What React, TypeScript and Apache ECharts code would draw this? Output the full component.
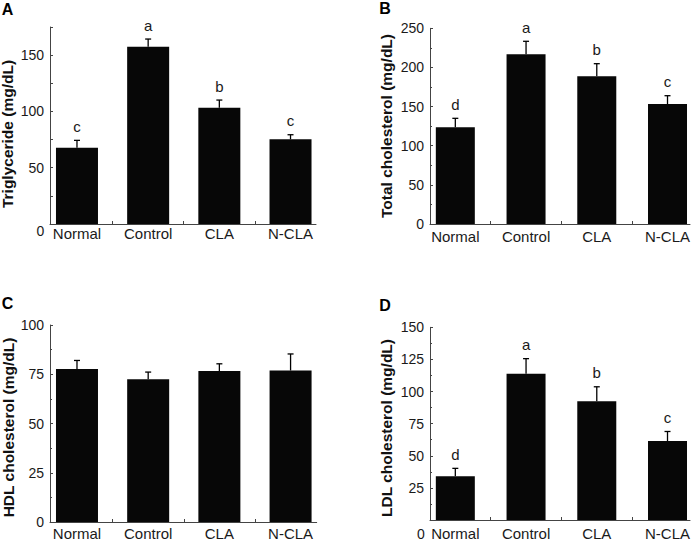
import React, { useEffect, useRef } from 'react';
import * as echarts from 'echarts';

const categories = ['Normal', 'Control', 'CLA', 'N-CLA'];
const positions = [1, 2, 3, 4];

const tgMean = [67.8, 157.5, 103.3, 75.2];
const tgErr = [6.5, 6.8, 6.8, 4.1];
const tgLetters = ['c', 'a', 'b', 'c'];

const tcMean = [123.5, 216.8, 188.7, 153.3];
const tcErr = [11.5, 16.6, 16.1, 10.6];
const tcLetters = ['d', 'a', 'b', 'c'];

const hdlMean = [77.7, 72.5, 76.6, 76.9];
const hdlErr = [4.3, 3.6, 3.7, 8.4];
const hdlLetters: string[] = [];

const ldlMean = [34.1, 113.9, 92.5, 61.5];
const ldlErr = [6.1, 11.7, 11.2, 7.4];
const ldlLetters = ['d', 'a', 'b', 'c'];

const FONT = '"Liberation Sans", Arial, Helvetica, sans-serif';

type Panel = {
  grid: { left: number; top: number; width: number; height: number };
  xMin: number;
  xMax: number;
  yMax: number;
  yInterval: number;
  minor: boolean;
  labelFilter: (v: number) => boolean;
  labelMargin: number;
  mean: number[];
  err: number[];
  letters: string[];
  barWidth: number;
};

const panels: Panel[] = [
  {
    grid: { left: 50, top: 27, width: 266, height: 197 },
    xMin: 0.621, xMax: 4.358, yMax: 175, yInterval: 25, minor: false,
    labelFilter: (v) => v % 50 === 0 && v > 0 && v < 175,
    labelMargin: 2,
    mean: tgMean, err: tgErr, letters: tgLetters, barWidth: 42,
  },
  {
    grid: { left: 430, top: 28.3, width: 260, height: 195.7 },
    xMin: 0.642, xMax: 4.318, yMax: 250, yInterval: 50, minor: true,
    labelFilter: () => true,
    labelMargin: 5,
    mean: tcMean, err: tcErr, letters: tcLetters, barWidth: 39,
  },
  {
    grid: { left: 50, top: 325, width: 266.7, height: 197.7 },
    xMin: 0.621, xMax: 4.367, yMax: 100, yInterval: 25, minor: true,
    labelFilter: () => true,
    labelMargin: 4,
    mean: hdlMean, err: hdlErr, letters: hdlLetters, barWidth: 42,
  },
  {
    grid: { left: 430, top: 327.3, width: 260, height: 196.7 },
    xMin: 0.642, xMax: 4.318, yMax: 150, yInterval: 25, minor: true,
    labelFilter: (v) => v > 0,
    labelMargin: 6,
    mean: ldlMean, err: ldlErr, letters: ldlLetters, barWidth: 39,
  },
];

const titles = [
  { text: 'Triglyceride (mg/dL)', x: 7.5, y: 134 },
  { text: 'Total cholesterol (mg/dL)', x: 386, y: 126 },
  { text: 'HDL cholesterol (mg/dL)', x: 8, y: 427.5 },
  { text: 'LDL cholesterol (mg/dL)', x: 386, y: 428 },
];
const panelLetters = [
  { text: 'A', x: 7.5, y: 9.5 },
  { text: 'B', x: 385, y: 8 },
  { text: 'C', x: 7.5, y: 303.5 },
  { text: 'D', x: 385, y: 305 },
];
const zeroLabels = [
  { x: 40.5, y: 231 },
  { x: 421, y: 533.5 },
];

export default function App() {
  const ref = useRef<HTMLDivElement>(null);
  useEffect(() => {
    if (!ref.current) return;
    const chart = echarts.init(ref.current, undefined, { renderer: 'svg' });

    const grid = panels.map((p) => ({ ...p.grid, containLabel: false }));
    const xAxis = panels.map((p, i) => ({
      type: 'value',
      gridIndex: i,
      min: p.xMin,
      max: p.xMax,
      axisLine: { show: true, lineStyle: { color: '#444', width: 1 } },
      axisTick: { show: true, inside: true, length: 3, customValues: [1.5, 2.5, 3.5], lineStyle: { color: '#444' } },
      axisLabel: {
        show: true,
        customValues: positions,
        formatter: (v: number) => categories[Math.round(v) - 1] ?? '',
        fontSize: 15,
        fontFamily: FONT,
        color: '#1a1a1a',
        margin: p.labelMargin,
      },
      splitLine: { show: false },
    }));
    const yAxis = panels.map((p, i) => ({
      type: 'value',
      gridIndex: i,
      min: 0,
      max: p.yMax,
      interval: p.yInterval,
      axisLine: { show: true, lineStyle: { color: '#444', width: 1 } },
      axisTick: { show: true, inside: true, length: 3, lineStyle: { color: '#444' } },
      minorTick: { show: p.minor, splitNumber: 2, length: 2, lineStyle: { color: '#444' } },
      axisLabel: {
        fontSize: 14,
        fontFamily: FONT,
        color: '#1a1a1a',
        margin: 6,
        formatter: (v: number) => (p.labelFilter(v) ? String(v) : ''),
      },
      splitLine: { show: false },
      minorSplitLine: { show: false },
    }));

    const series: any[] = [];
    panels.forEach((p, i) => {
      series.push({
        type: 'bar',
        xAxisIndex: i,
        yAxisIndex: i,
        barWidth: p.barWidth,
        itemStyle: { color: '#070707' },
        data: positions.map((x, k) => [x, p.mean[k]]),
      });
      series.push({
        type: 'custom',
        xAxisIndex: i,
        yAxisIndex: i,
        clip: false,
        data: positions.map((x, k) => [x, p.mean[k], p.err[k]]),
        renderItem: (params: any, api: any) => {
          const x = api.value(0);
          const y = api.value(1);
          const e = api.value(2);
          const base = api.coord([x, y]);
          const top = api.coord([x, y + e]);
          return {
            type: 'group',
            children: [
              { type: 'line', shape: { x1: base[0], y1: base[1], x2: top[0], y2: top[1] }, style: { stroke: '#000', lineWidth: 1.3 } },
              { type: 'line', shape: { x1: top[0] - 3, y1: top[1], x2: top[0] + 3, y2: top[1] }, style: { stroke: '#000', lineWidth: 1.3 } },
            ],
          };
        },
      });
      if (p.letters.length) {
        series.push({
          type: 'custom',
          xAxisIndex: i,
          yAxisIndex: i,
          clip: false,
          data: positions.map((x, k) => [x, p.mean[k] + p.err[k]]),
          renderItem: (params: any, api: any) => {
            const pt = api.coord([api.value(0), api.value(1)]);
            return {
              type: 'text',
              x: pt[0],
              y: pt[1] - 14,
              style: {
                text: p.letters[params.dataIndex],
                fill: '#1a1a1a',
                fontSize: 15,
                fontFamily: FONT,
                align: 'center',
                verticalAlign: 'middle',
              },
            };
          },
        });
      }
    });

    const graphic: any[] = [];
    titles.forEach((t) => {
      graphic.push({
        type: 'text',
        x: t.x,
        y: t.y,
        rotation: Math.PI / 2,
        style: { text: t.text, fill: '#111', fontSize: 15.5, fontWeight: 'bold', fontFamily: FONT, align: 'center', verticalAlign: 'middle' },
      });
    });
    panelLetters.forEach((t) => {
      graphic.push({
        type: 'text',
        x: t.x,
        y: t.y,
        style: { text: t.text, fill: '#000', fontSize: 16, fontWeight: 'bold', fontFamily: FONT, align: 'center', verticalAlign: 'middle' },
      });
    });
    zeroLabels.forEach((t) => {
      graphic.push({
        type: 'text',
        x: t.x,
        y: t.y,
        style: { text: '0', fill: '#1a1a1a', fontSize: 14, fontFamily: FONT, align: 'center', verticalAlign: 'middle' },
      });
    });

    chart.setOption({
      animation: false,
      backgroundColor: '#ffffff',
      grid,
      xAxis,
      yAxis,
      series,
      graphic,
    });
    return () => chart.dispose();
  }, []);
  return <div ref={ref} style={{ width: 695, height: 541, position: 'fixed', left: 0, top: 0 }} />;
}
